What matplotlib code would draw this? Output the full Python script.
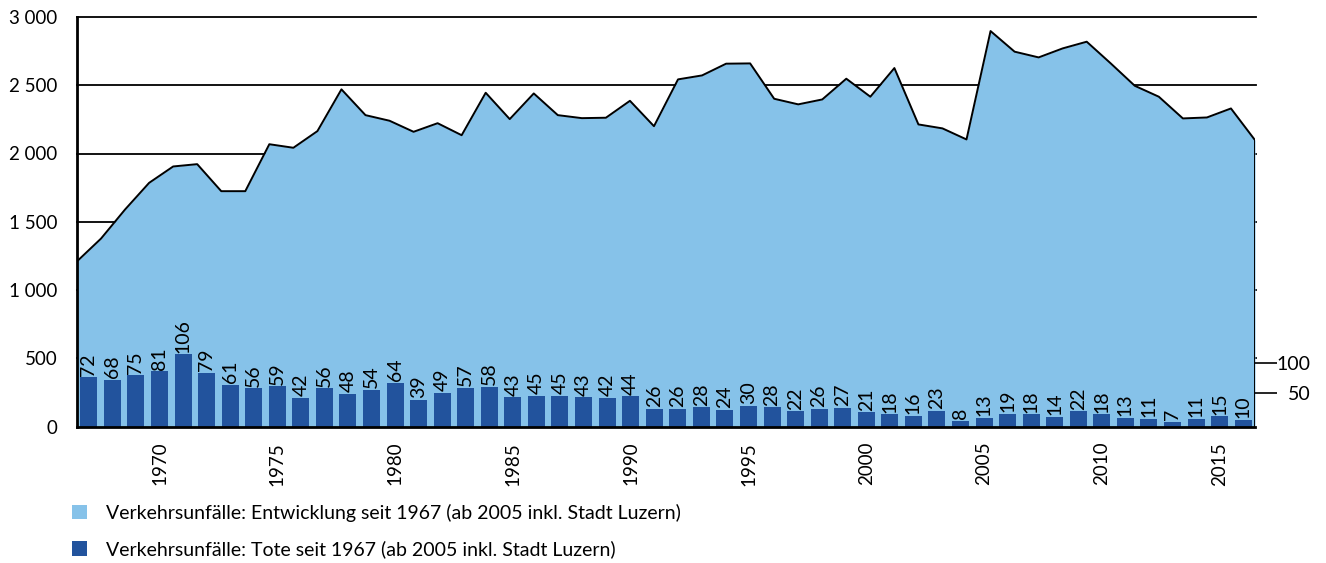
import matplotlib
matplotlib.use("Agg")
import matplotlib.pyplot as plt
from matplotlib.patches import Patch
import numpy as np

plt.rcParams['font.family'] = ['Lato', 'DejaVu Sans']

years = list(range(1967, 2017))
accidents = [1210, 1377, 1590, 1785, 1905, 1922, 1724, 1724, 2068, 2042,
             2164, 2470, 2281, 2240, 2159, 2222, 2134, 2445, 2252, 2440,
             2281, 2259, 2262, 2386, 2200, 2543, 2572, 2658, 2660, 2401,
             2360, 2396, 2548, 2416, 2626, 2213, 2184, 2103, 2897, 2746,
             2704, 2770, 2819, 2660, 2496, 2416, 2257, 2264, 2330, 2098]
deaths = [72, 68, 75, 81, 106, 79, 61, 56, 59, 42, 56, 48, 54, 64, 39, 49,
          57, 58, 43, 45, 45, 43, 42, 44, 26, 26, 28, 24, 30, 28, 22, 26, 27, 21,
          18, 16, 23, 8, 13, 19, 18, 14, 22, 18, 13, 11, 7, 11, 15, 10]
year_ticks = [1970, 1975, 1980, 1985, 1990, 1995, 2000, 2005, 2010, 2015]
y_ticks = [0, 500, 1000, 1500, 2000, 2500, 3000]
y_labels = ["0", "500", "1 000", "1 500", "2 000", "2 500", "3 000"]
right_ticks = [50, 100]
right_labels = ["50", "100"]
legend_labels = ["Verkehrsunfälle: Entwicklung seit 1967 (ab 2005 inkl. Stadt Luzern)",
                 "Verkehrsunfälle: Tote seit 1967 (ab 2005 inkl. Stadt Luzern)"]
death_scale = 5  # bars drawn as deaths x 5 on the left axis

light = "#86C2E9"
dark = "#22539D"

fig = plt.figure(figsize=(13.26, 5.63), dpi=100)
ax = fig.add_axes([77/1326, 1-426.5/563, (1255-77)/1326, (426.5-17)/563])

n = len(years)
x_area = np.arange(n) * n / (n - 1)
x_bar = np.arange(n) + 0.5

for yt in y_ticks[1:]:
    ax.axhline(yt, color="black", lw=1.3, zorder=1, xmax=1.001, clip_on=False)

ax.fill_between(x_area, 0, accidents, color=light, lw=0, zorder=2)
ax.plot(np.r_[x_area, x_area[-1]], np.r_[accidents, 0], color="black", lw=1.4, zorder=4)

vals = np.array(deaths) * death_scale
ax.bar(x_bar, vals, width=0.72, color=dark, zorder=3)
for xb, v, d in zip(x_bar, vals, deaths):
    ax.text(xb, v + 12, str(d), rotation=90, ha="center", va="bottom", fontsize=14, zorder=5)

ax.set_xlim(0, n)
ax.set_ylim(0, 3000)
ax.set_yticks(y_ticks)
ax.set_yticklabels(y_labels, fontsize=13.5)
ax.tick_params(axis="y", length=0, pad=14)
ax.set_xticks([years.index(y) + 0.5 for y in year_ticks])
ax.set_xticklabels([str(y) for y in year_ticks], rotation=90, fontsize=13.5)
ax.tick_params(axis="x", length=0, pad=11)
for s in ["top", "right"]:
    ax.spines[s].set_visible(False)
ax.spines["left"].set_linewidth(2)
ax.spines["bottom"].set_linewidth(2)
ax.spines["left"].set_zorder(6)
ax.spines["bottom"].set_zorder(6)

ax2 = ax.twinx()
ax2.set_ylim(-5.5, 677)
ax2.set_yticks(right_ticks)
ax2.set_yticklabels(right_labels, fontsize=14, ha="right")
ax2.tick_params(axis="y", length=16, width=1.2, pad=24)
for s in ["top", "right", "left", "bottom"]:
    ax2.spines[s].set_visible(False)

handles = [Patch(facecolor=light, edgecolor="none"), Patch(facecolor=dark, edgecolor="none")]
fig.legend(handles, legend_labels, loc="upper left", bbox_to_anchor=(66/1326, 1-498/563),
           frameon=False, fontsize=14, handlelength=0.78, handleheight=0.78,
           handletextpad=1.0, labelspacing=0.95, borderaxespad=0, borderpad=0.3)

fig.savefig("out.png", dpi=100)
